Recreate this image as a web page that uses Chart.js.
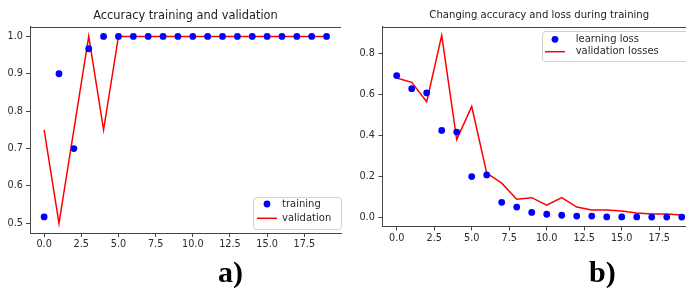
<!DOCTYPE html>
<html>
<head>
<meta charset="utf-8">
<script src="https://cdn.jsdelivr.net/npm/chart.js@4.4.0/dist/chart.umd.min.js"></script>
<style>
  body { margin: 0; width: 686px; height: 288px; overflow: hidden; background: #fff; position: relative; }
  .box { position: absolute; top: 0; overflow: hidden; }
  .box canvas { display: block; }
  #boxA { left: 0; width: 342px; height: 260px; }
  #boxB { left: 342px; width: 344px; height: 260px; }
  .tag { position: absolute; font-family: "Liberation Serif", serif; font-weight: bold; font-size: 30px; line-height: 30px; color: #000; }
</style>
</head>
<body>
<div class="box" id="boxA"><canvas id="accChart" width="346" height="260"></canvas></div>
<div class="box" id="boxB"><canvas id="lossChart" width="360" height="260"></canvas></div>
<div class="tag" style="left:218px;top:257px">a)</div>
<div class="tag" style="left:589px;top:257px">b)</div>
<script>
const epochs = [0, 1, 2, 3, 4, 5, 6, 7, 8, 9, 10, 11, 12, 13, 14, 15, 16, 17, 18, 19];
const trainAcc = [0.517, 0.9, 0.7, 0.967, 1, 1, 1, 1, 1, 1, 1, 1, 1, 1, 1, 1, 1, 1, 1, 1];
const valAcc = [0.75, 0.5, 0.75, 1, 0.75, 1, 1, 1, 1, 1, 1, 1, 1, 1, 1, 1, 1, 1, 1, 1];
const trainLoss = [0.693, 0.629, 0.608, 0.425, 0.417, 0.199, 0.207, 0.073, 0.05, 0.024, 0.015, 0.01, 0.006, 0.006, 0.002, 0.002, 0.002, 0.001, 0.001, 0.001];
const valLoss = [0.681, 0.66, 0.565, 0.89, 0.38, 0.542, 0.216, 0.167, 0.088, 0.096, 0.059, 0.096, 0.05, 0.036, 0.036, 0.031, 0.021, 0.016, 0.016, 0.011];
const xTicks = [0, 2.5, 5, 7.5, 10, 12.5, 15, 17.5];
const accTicks = [0.5, 0.6, 0.7, 0.8, 0.9, 1.0];
const lossTicks = [0, 0.2, 0.4, 0.6, 0.8];

const tickFont = { family: "DejaVu Sans", size: 9.7 };
const axisColor = "#444";
const textColor = "#2a2a2a";

const toPoints = ys => epochs.map((x, i) => ({ x: x, y: ys[i] }));

// top spine, matplotlib style box
const frame = {
  id: "frame",
  afterDraw(chart) {
    const ctx = chart.ctx, a = chart.chartArea;
    ctx.save();
    ctx.strokeStyle = axisColor;
    ctx.lineWidth = 1;
    ctx.beginPath();
    ctx.moveTo(a.left, Math.round(a.top) + 0.5);
    ctx.lineTo(a.right, Math.round(a.top) + 0.5);
    ctx.stroke();
    ctx.restore();
  }
};

// legend box drawn inside the plot
const boxLegend = {
  id: "boxLegend",
  afterDraw(chart, args, o) {
    const ctx = chart.ctx;
    ctx.save();
    ctx.fillStyle = "rgba(255,255,255,0.8)";
    ctx.strokeStyle = "#d0d0d0";
    ctx.lineWidth = 1;
    ctx.beginPath();
    ctx.roundRect(o.x + 0.5, o.y + 0.5, o.w, o.h, 3);
    ctx.fill();
    ctx.stroke();
    ctx.font = o.size + "px 'DejaVu Sans'";
    ctx.textBaseline = "middle";
    chart.data.datasets.forEach((ds, i) => {
      const y = o.y + o.first + i * o.gap;
      if (ds.showLine === false) {
        ctx.fillStyle = ds.backgroundColor;
        ctx.beginPath();
        ctx.arc(o.x + o.mark, y, ds.pointRadius, 0, Math.PI * 2);
        ctx.fill();
      } else {
        ctx.strokeStyle = ds.borderColor;
        ctx.lineWidth = ds.borderWidth;
        ctx.beginPath();
        ctx.moveTo(o.x + o.mark - 10, y);
        ctx.lineTo(o.x + o.mark + 10, y);
        ctx.stroke();
      }
      ctx.fillStyle = textColor;
      ctx.fillText(ds.label, o.x + o.text, y);
    });
    ctx.restore();
  }
};

function makeChart(id, cfg) {
  return new Chart(document.getElementById(id), {
    type: "scatter",
    data: {
      datasets: [
        { label: cfg.dotLabel, data: toPoints(cfg.dots), showLine: false, pointRadius: 3.4,
          backgroundColor: "#0000ff", borderColor: "#0000ff", borderWidth: 0, order: 0 },
        { label: cfg.lineLabel, data: toPoints(cfg.line), showLine: true, pointRadius: 0,
          borderColor: "#ff0000", backgroundColor: "#ff0000", borderWidth: 1.5, tension: 0, order: 1 }
      ]
    },
    options: {
      responsive: false,
      animation: false,
      layout: { padding: cfg.padding },
      plugins: {
        legend: { display: false },
        tooltip: { enabled: false },
        title: {
          display: true, text: cfg.title, fullSize: false, color: "#222",
          font: { family: "DejaVu Sans", size: cfg.titleSize, weight: "normal" },
          padding: cfg.titlePad
        },
        boxLegend: cfg.legend
      },
      scales: {
        x: {
          type: "linear", min: cfg.xMin, max: cfg.xMax,
          afterBuildTicks: s => { s.ticks = xTicks.map(v => ({ value: v })); },
          afterFit: s => { s.height = cfg.xHeight; },
          grid: { display: true, drawOnChartArea: false, drawTicks: true, tickLength: 4, color: axisColor },
          border: { display: true, color: axisColor, width: 1 },
          ticks: { font: tickFont, color: textColor, padding: 2, maxRotation: 0, callback: v => v.toFixed(1) }
        },
        y: {
          min: cfg.yMin, max: cfg.yMax,
          afterBuildTicks: s => { s.ticks = cfg.yTicks.map(v => ({ value: v })); },
          afterFit: s => { s.width = cfg.yWidth; },
          grid: { display: true, drawOnChartArea: false, drawTicks: true, tickLength: 4, color: axisColor },
          border: { display: true, color: axisColor, width: 1 },
          ticks: { font: tickFont, color: textColor, padding: cfg.yPad, callback: v => v.toFixed(1) }
        }
      }
    },
    plugins: [frame, boxLegend]
  });
}

window.onload = () => {
  makeChart("accChart", {
    title: "Accuracy training and validation", titleSize: 11.4, titlePad: { top: 9, bottom: 4 },
    dotLabel: "training", lineLabel: "validation", dots: trainAcc, line: valAcc,
    xMin: -0.95, xMax: 19.97, yMin: 0.474, yMax: 1.026, yTicks: accTicks,
    xHeight: 27, yWidth: 30, yPad: 3, padding: { left: 0, right: 5, top: 0, bottom: 0 },
    legend: { x: 253, y: 197, w: 88, h: 32, first: 7, gap: 14.3, mark: 14, text: 29, size: 10 }
  });
  makeChart("lossChart", {
    title: "Changing accuracy and loss during training", titleSize: 10.1, titlePad: { top: 9.6, bottom: 5 },
    dotLabel: "learning loss", lineLabel: "validation losses", dots: trainLoss, line: valLoss,
    xMin: -0.947, xMax: 19.95, yMin: -0.045, yMax: 0.932, yTicks: lossTicks,
    xHeight: 33.5, yWidth: 40.5, yPad: 3.7, padding: { left: 0, right: 6, top: 0, bottom: 0 },
    legend: { x: 200, y: 31, w: 149, h: 30, first: 8.3, gap: 12.4, mark: 13, text: 33.7, size: 10 }
  });
};
</script>
</body>
</html>
